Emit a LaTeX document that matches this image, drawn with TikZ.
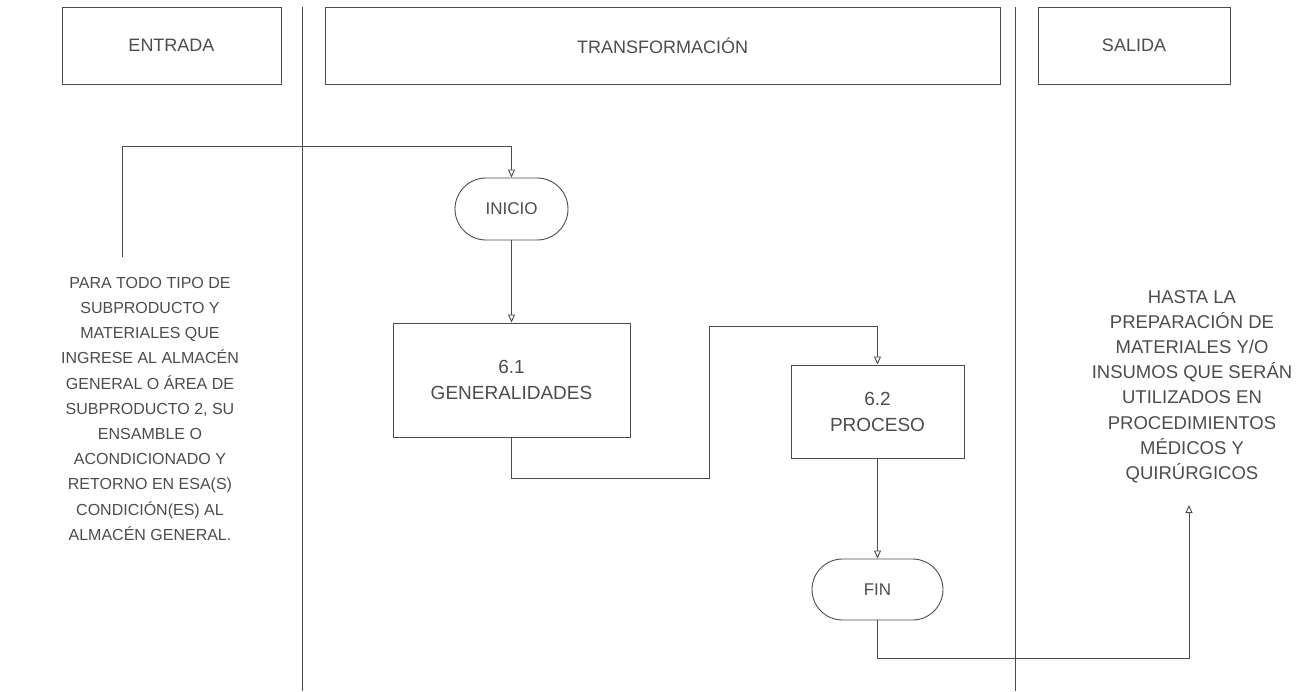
\documentclass[tikz,border=0pt]{standalone}
\usepackage{fontspec}
\setmainfont{Liberation Sans}
\usetikzlibrary{arrows.meta,shapes.misc}
\definecolor{ink}{gray}{0.3}
\tikzset{
  x=1pt,y=-1pt,
  every node/.style={text=ink},
  line/.style={draw=ink,line width=0.9pt},
  arr/.style={line,-{Triangle[open,length=8pt,width=7pt]}},
  titlebox/.style={line,minimum height=77pt,font=\fontsize{18}{20}\selectfont,inner sep=0pt},
  procbox/.style={line,font=\fontsize{19}{26}\selectfont,align=center,inner sep=0pt},
  term/.style={line,rounded rectangle,font=\fontsize{17}{19}\selectfont,inner sep=0pt},
  sidetext/.style={align=center,inner sep=0pt,anchor=north},
}
\begin{document}
\begin{tikzpicture}
\useasboundingbox (0,0) rectangle (1312,691);
% lane separators
\coordinate (s1t) at (302,7); \coordinate (s1b) at (302,691);
\coordinate (s2t) at (1015,7); \coordinate (s2b) at (1015,691);
\draw[line] (s1t) -- (s1b);
\draw[line] (s2t) -- (s2b);
% titles
\node[titlebox,minimum width=219pt] (ent) at (171.5,45.5) {ENTRADA};
\node[titlebox,minimum width=675pt] (tra) at (662.5,45.5) {TRANSFORMACIÓN};
\node[titlebox,minimum width=192pt] (sal) at (1134,45.5) {SALIDA};
% process nodes
\node[term,minimum width=113pt,minimum height=62pt] (ini) at (511.5,209) {INICIO};
\node[procbox,minimum width=237pt,minimum height=114pt] (g61) at (511.5,380) {6.1\\GENERALIDADES};
\node[procbox,minimum width=173pt,minimum height=93pt] (p62) at (877.5,411.5) {6.2\\PROCESO};
\node[term,minimum width=131pt,minimum height=61pt] (fin) at (877.5,589.5) {FIN};
% side texts
\node[sidetext,font=\fontsize{16}{25.2}\selectfont] (txtin) at (150,277)
 {PARA TODO TIPO DE\\SUBPRODUCTO Y\\MATERIALES QUE\\INGRESE AL ALMACÉN\\GENERAL O ÁREA DE\\SUBPRODUCTO 2, SU\\ENSAMBLE O\\ACONDICIONADO Y\\RETORNO EN ESA(S)\\CONDICIÓN(ES) AL\\ALMACÉN GENERAL.};
\node[sidetext,font=\fontsize{18.5}{25.2}\selectfont] (txtout) at (1192,290)
 {HASTA LA\\PREPARACIÓN DE\\MATERIALES Y/O\\INSUMOS QUE SERÁN\\UTILIZADOS EN\\PROCEDIMIENTOS\\MÉDICOS Y\\QUIRÚRGICOS};
% connectors
\coordinate (inA) at (122,257);
\coordinate (inB) at (122,146);
\draw[arr] (inA) -- (inB) -| (ini.north);
\draw[arr] (ini.south) -- (g61.north);
\coordinate (c1) at (511.5,478);
\coordinate (c2) at (709,478);
\coordinate (c3) at (709,326);
\coordinate (c4) at (877.5,326);
\draw[arr] (g61.south) -- (c1) -- (c2) -- (c3) -- (c4) -- (p62.north);
\draw[arr] (p62.south) -- (fin.north);
\coordinate (o1) at (877.5,658);
\coordinate (o2) at (1189,658);
\coordinate (o3) at (1189,505);
\draw[arr] (fin.south) -- (o1) -- (o2) -- (o3);
\end{tikzpicture}
\end{document}
